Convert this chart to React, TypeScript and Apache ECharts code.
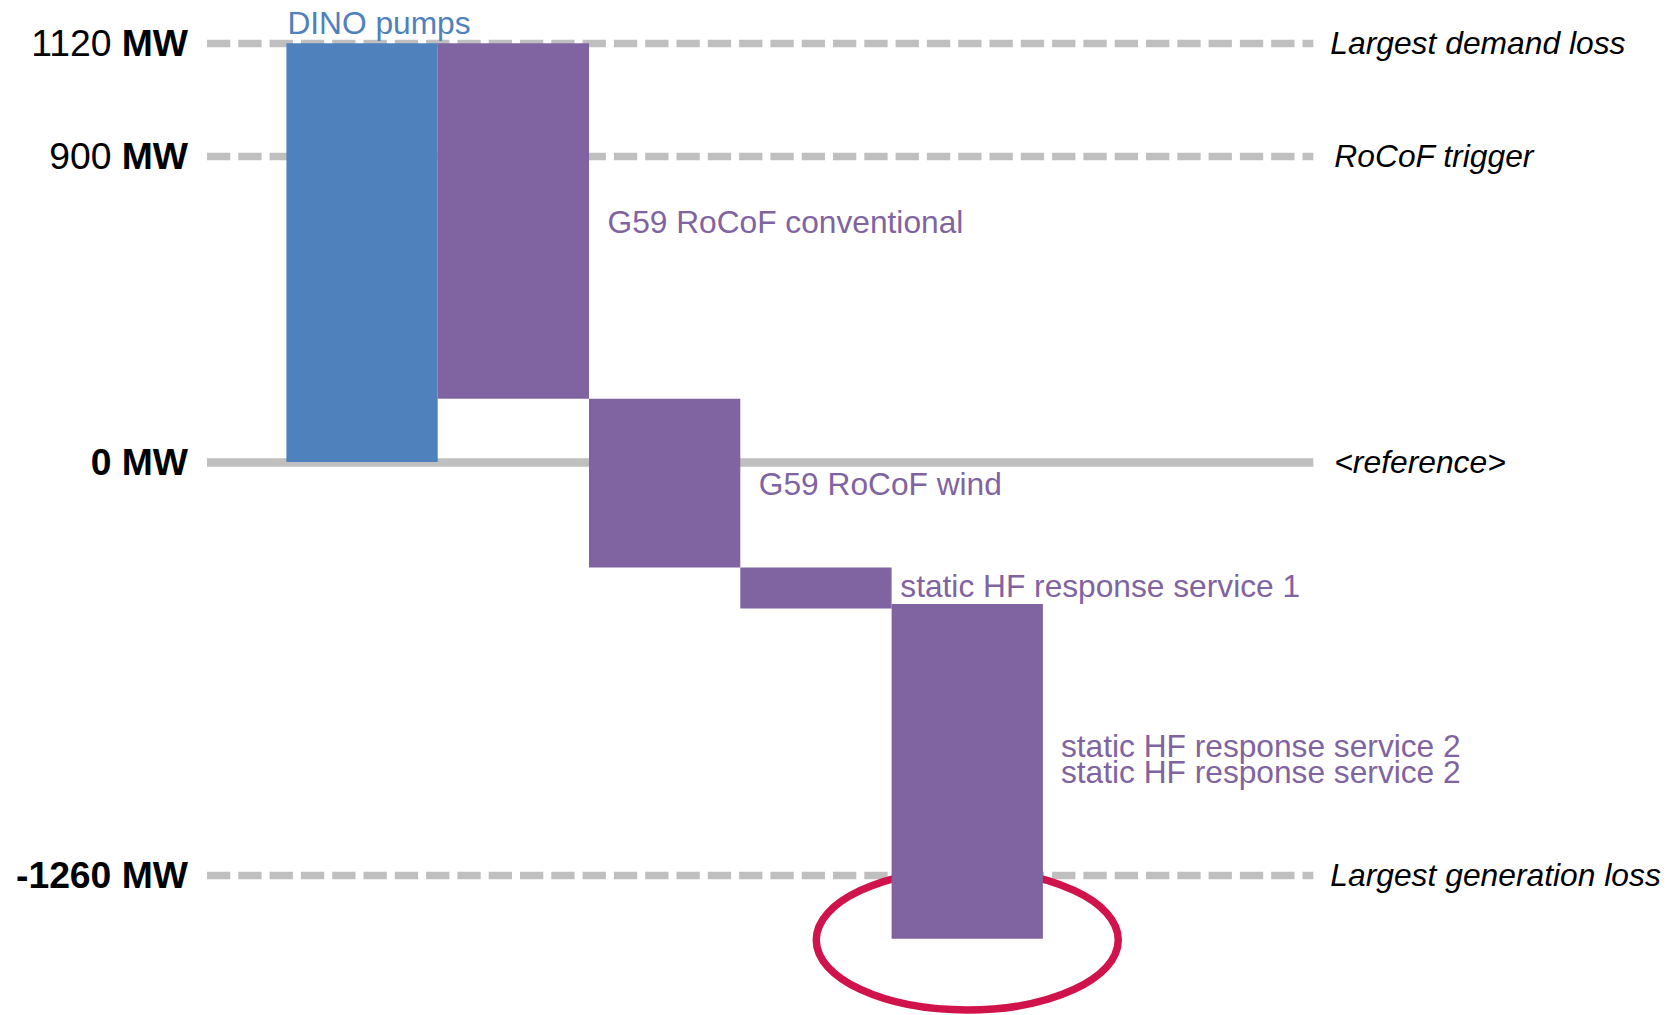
import React, { useEffect, useRef } from 'react';
import * as echarts from 'echarts';

// ---------------- data ----------------
// The source chart is a schematic (not drawn to scale); values are positions read
// off the picture on a MW-like axis calibrated by the 0 MW and 1120 MW lines.
const CATEGORIES = [
  'DINO pumps',
  'G59 RoCoF conventional',
  'G59 RoCoF wind',
  'static HF response service 1',
  'static HF response service 2',
];
const BAR_TOP = [1120, 1120, 169, -282, -380];
const BAR_BOTTOM = [0, 169, -282, -392, -1275];
const HIGHLIGHTED = [false, false, false, false, true];

const REF_POSITIONS = [1120, 818, 0, -1105];
const REF_TICK_LABELS = ['1120', '900', '0', '-1260'];
const REF_UNIT = 'MW';
const REF_NAMES = ['Largest demand loss', 'RoCoF trigger', '<reference>', 'Largest generation loss'];

const Y_MIN = -1400;
const Y_MAX = 1200;

// ---------------- styles ----------------
const FONT = '"Liberation Sans", Arial, Helvetica, sans-serif';
const BLUE = '#4F81BD';
const PURPLE = '#8064A2';
const GREY = '#BFBFBF';
const RED = '#D0134A';
const BAR_COLORS = [BLUE, PURPLE, PURPLE, PURPLE, PURPLE];
const REF_DASHED = [true, true, false, true];
const REF_NUMBER_BOLD = [false, false, true, true];
const REF_NAME_GAP = [17, 21, 21, 17];
// label placement relative to each bar: side, x offset, list of y offsets (one text per offset)
const LABEL_LAYOUT: { side: 'top' | 'right'; dx: number; dys: number[] }[] = [
  { side: 'top', dx: 1, dys: [-20] },
  { side: 'right', dx: 18.5, dys: [1] },
  { side: 'right', dx: 18.5, dys: [0.5] },
  { side: 'right', dx: 8.7, dys: [-2] },
  { side: 'right', dx: 18, dys: [-25.7, 1.1] },
];

const GRID_TOP = 13.4;
const GRID_BOTTOM = 29.6;

export default function App() {
  const ref = useRef<HTMLDivElement>(null);

  useEffect(() => {
    if (!ref.current) return;
    const chart = echarts.init(ref.current, null, { renderer: 'svg' });

    const markData: any[] = [];
    REF_POSITIONS.forEach((pos, i) => {
      const numStyle = REF_NUMBER_BOLD[i] ? 'bold' : 'num';
      markData.push({
        yAxis: pos,
        lineStyle: {
          color: GREY,
          width: REF_DASHED[i] ? 7.3 : 8.7,
          type: REF_DASHED[i] ? [23.3, 8] : 'solid',
          cap: 'butt',
        },
        label: {
          show: true,
          position: 'start',
          distance: 19,
          color: '#000',
          fontSize: 37.3,
          fontFamily: FONT,
          formatter: () => `{${numStyle}|${REF_TICK_LABELS[i]}} {unit|${REF_UNIT}}`,
          rich: {
            num: { fontSize: 37.3, fontFamily: FONT, color: '#000', fontWeight: 'normal' },
            bold: { fontSize: 37.3, fontFamily: FONT, color: '#000', fontWeight: 'bold' },
            unit: { fontSize: 37.3, fontFamily: FONT, color: '#000', fontWeight: 'bold' },
          },
        },
      });
      markData.push({
        yAxis: pos,
        lineStyle: { color: 'rgba(0,0,0,0)', width: 0, type: 'solid' },
        label: {
          show: true,
          position: 'end',
          distance: REF_NAME_GAP[i],
          color: '#000',
          fontSize: 31.8,
          fontStyle: 'italic',
          fontFamily: FONT,
          formatter: () => REF_NAMES[i],
        },
      });
    });

    const renderItem = (params: any, api: any) => {
      const i = api.value(0);
      const lo = api.value(1);
      const hi = api.value(2);
      const topPt = api.coord([i, hi]);
      const botPt = api.coord([i, lo]);
      const w = api.size([1, 0])[0];
      const x0 = topPt[0] - w / 2;
      const x1 = topPt[0] + w / 2;
      const children: any[] = [];
      if (HIGHLIGHTED[i]) {
        children.push({
          type: 'ellipse',
          shape: { cx: topPt[0], cy: botPt[1] + 1.3, rx: 151, ry: 70 },
          style: { fill: 'none', stroke: RED, lineWidth: 7.5 },
        });
      }
      children.push({
        type: 'rect',
        shape: { x: x0, y: topPt[1], width: w, height: botPt[1] - topPt[1] },
        style: { fill: BAR_COLORS[i] },
      });
      const lay = LABEL_LAYOUT[i];
      lay.dys.forEach((dy) => {
        const tx = lay.side === 'top' ? x0 + lay.dx : x1 + lay.dx;
        const ty = lay.side === 'top' ? topPt[1] + dy : (topPt[1] + botPt[1]) / 2 + dy;
        children.push({
          type: 'text',
          x: tx,
          y: ty,
          style: {
            text: CATEGORIES[i],
            fill: BAR_COLORS[i],
            fontSize: 31.7,
            fontFamily: FONT,
            align: 'left',
            verticalAlign: 'middle',
            textAlign: 'left',
            textVerticalAlign: 'middle',
          },
        });
      });
      return { type: 'group', children };
    };

    chart.setOption({
      animation: false,
      backgroundColor: '#fff',
      textStyle: { fontFamily: FONT },
      grid: [
        { left: 207, right: 363.7, top: GRID_TOP, bottom: GRID_BOTTOM },
        { left: 286.4, right: 634.1, top: GRID_TOP, bottom: GRID_BOTTOM },
      ],
      xAxis: [
        { type: 'value', gridIndex: 0, min: 0, max: 1, show: false },
        { type: 'category', gridIndex: 1, data: CATEGORIES, show: false },
      ],
      yAxis: [
        { type: 'value', gridIndex: 0, min: Y_MIN, max: Y_MAX, show: false },
        { type: 'value', gridIndex: 1, min: Y_MIN, max: Y_MAX, show: false },
      ],
      series: [
        {
          type: 'line',
          xAxisIndex: 0,
          yAxisIndex: 0,
          data: [],
          z: 1,
          silent: true,
          markLine: {
            z: 1,
            silent: true,
            symbol: ['none', 'none'],
            animation: false,
            data: markData,
          },
        },
        {
          type: 'custom',
          xAxisIndex: 1,
          yAxisIndex: 1,
          z: 3,
          clip: false,
          silent: true,
          encode: { x: 0, y: [1, 2] },
          data: CATEGORIES.map((_, i) => [i, BAR_BOTTOM[i], BAR_TOP[i]]),
          renderItem,
        },
      ],
    });

    return () => chart.dispose();
  }, []);

  return (
    <div
      ref={ref}
      style={{ position: 'absolute', left: 0, top: 0, width: 1677, height: 1015 }}
    />
  );
}
